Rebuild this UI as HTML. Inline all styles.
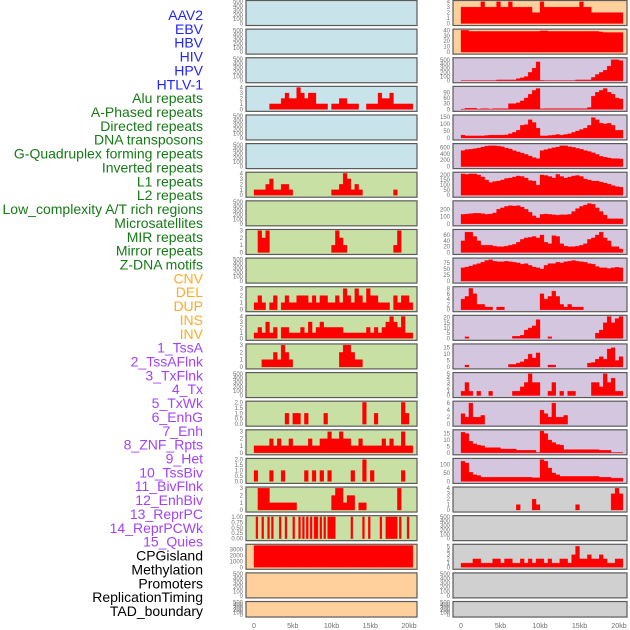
<!DOCTYPE html>
<html><head><meta charset="utf-8"><style>
html,body{margin:0;padding:0;background:#fff;}
svg{display:block;font-family:"Liberation Sans",sans-serif;}
</style></head><body>
<svg id="chart" width="630" height="630" viewBox="0 0 630 630" xmlns="http://www.w3.org/2000/svg"></svg>
<script>
// ---- data ----
const labels = ["AAV2","EBV","HBV","HIV","HPV","HTLV-1","Alu repeats","A-Phased repeats","Directed repeats","DNA transposons","G-Quadruplex forming repeats","Inverted repeats","L1 repeats","L2 repeats","Low_complexity A/T rich regions","Microsatellites","MIR repeats","Mirror repeats","Z-DNA motifs","CNV","DEL","DUP","INS","INV","1_TssA","2_TssAFlnk","3_TxFlnk","4_Tx","5_TxWk","6_EnhG","7_Enh","8_ZNF_Rpts","9_Het","10_TssBiv","11_BivFlnk","12_EnhBiv","13_ReprPC","14_ReprPCWk","15_Quies","CPGisland","Methylation","Promoters","ReplicationTiming","TAD_boundary"];
const labelGroups = ["virus","virus","virus","virus","virus","virus","repeat","repeat","repeat","repeat","repeat","repeat","repeat","repeat","repeat","repeat","repeat","repeat","repeat","sv","sv","sv","sv","sv","hmm","hmm","hmm","hmm","hmm","hmm","hmm","hmm","hmm","hmm","hmm","hmm","hmm","hmm","hmm","other","other","other","other","other"];
const xTickKb = [0,5,10,15,20];
const xTickLabels = ["0","5kb","10kb","15kb","20kb"];

const emptyTicks = [0,100,200,300,400,500];
const t4 = [0,1,2,3,4];
const t3 = [0,1,2,3];
const t2 = [0,0.5,1,1.5,2];
const t2Labels = ["0.0","0.5","1.0","1.5","2.0"];
const t1 = [0,0.25,0.5,0.75,1];
const t1Labels = ["0.00","0.25","0.50","0.75","1.00"];

const L3 = [0,0,0,0,1,1,1,2,3,2,2,4,3,2,3,3,1,1,1,0,1,1,2,2,1,1,1,0,0,1,1,1,3,2,2,3,1,1,1,1,1];
const L6 = [1,1,1,2,3,1,1,2,2,1,0,0,0,0,0,0,0,0,0,0,1,1,2,4,3,1,2,1,0,0,0,0,0,0,0,0,1,0,0,0,0];
const L8 = [0,3,2,3,0,0,0,0,0,0,0,0,0,0,0,0,0,0,0,0,1,3,2,1,0,0,0,0,0,0,0,0,0,0,0,0,1,3,0,0,0];
const L10 = [1,2,1,0,1,2,0,1,2,1,1,2,2,2,1,2,1,2,2,1,1,2,1,3,2,1,3,2,1,3,2,2,1,1,1,0,2,1,2,2,1];
const L11 = [1,2,1,3,1,2,0,2,2,1,1,1,2,1,3,1,2,3,2,2,2,2,2,1,1,1,1,1,1,2,1,2,1,2,3,4,3,2,4,1,1];
const L12 = [0,0,1,1,1,2,1,3,2,1,0,0,0,0,0,0,0,0,0,0,0,0,2,3,3,2,1,1,0,0,0,0,0,0,0,0,0,0,0,0,0];
const L14 = [0,0,0,0,0,0,0,0,1,0,1,1,0,1,0,0,0,0,1,0,0,0,0,0,0,0,0,0,2,0,0,1,0,0,0,0,0,0,2,1,0];
const L15 = [1,1,1,1,2,1,2,1,1,2,1,1,1,1,2,1,1,2,2,3,2,2,3,2,2,1,1,2,1,1,1,1,1,2,1,2,1,1,3,1,1];
const L16 = [1,0,0,0,1,0,0,1,0,0,0,0,0,1,0,1,0,1,0,1,0,0,0,0,0,1,0,0,2,0,1,0,0,0,0,0,0,0,1,0,0];
const L17 = [0,3,3,3,1,1,1,1,1,1,1,0,0,0,0,0,0,0,0,0,2,3,3,1,2,2,0,1,1,0,0,0,0,0,0,0,0,3,0,0,0];
const L18 = [0,1,0,0,1,0,0,1,0,1, 0,0,0,1,0,0,1,0,0,0, 1,0,0,1,0,1,0,1,0,1, 0,1,1,0,1,0,1,0,1,1, 1,1,0,0,0,0,0,0,0,0, 1,0,0,0,0,0,1,0,0,1, 0,0,0,0,0,1,0,0,1,1, 1,1,1,1,0,1,0,0,0,1, 0,0];
const L19 = [3700,3700,3700,3700,3700,3700,3700,3700,3700,3700,3700,3700,3700,3700,3700,3700,3700,3700,3700,3700,3700,3700,3700,3700,3700,3700,3700,3700,3700,3700,3700,3700,3700,3700,3700,3700,3700,3700,3700,3700,3700];

const R0 = [3,3,3,3,3,4,3,3,3,4,3,3,4,3,3,3,3,3,2,2,4,3,3,3,3,3,3,3,3,3,4,3,3,2,2,2,2,2,2,2,2];
const R1 = [40,40,38,38,38,38,38,38,38,38,38,38,38,38,38,38,38,38,38,38,39,39,38,38,38,38,38,38,38,38,38,38,38,38,38,37,36,36,36,36,36];
const R2 = [5,5,5,5,5,5,5,5,5,20,20,20,20,20,50,70,100,200,300,450,10,5,5,5,5,5,5,5,5,20,20,20,20,80,150,200,250,350,500,500,480];
const R3 = [2,6,6,6,2,4,4,2,4,4,4,4,30,30,35,45,60,80,100,110,3,4,4,4,4,4,4,4,4,4,4,4,10,70,90,100,110,90,80,60,55];
const R4 = [20,15,15,15,15,15,18,20,20,20,20,22,30,40,55,90,95,130,110,70,15,15,18,20,25,20,25,30,40,50,60,70,90,145,130,105,100,105,90,55,55];
const R5 = [500,530,540,560,580,610,640,650,650,640,620,580,550,500,460,420,380,330,280,250,500,530,560,590,610,650,650,620,600,570,540,500,470,430,380,320,290,270,250,250,240];
const R6 = [210,205,210,210,200,180,150,125,135,140,150,165,170,180,190,185,170,145,140,100,200,195,185,170,205,185,170,180,190,195,185,160,150,140,140,130,120,110,95,85,80];
const R7 = [130,135,140,145,145,140,130,135,150,200,220,240,250,245,250,230,200,160,110,80,130,135,130,125,120,125,125,130,170,210,240,260,280,270,220,170,120,70,70,70,70];
const R8 = [40,70,70,55,40,25,25,25,22,20,20,22,25,28,35,45,50,52,55,50,60,35,30,58,55,30,22,20,20,22,25,30,45,50,60,70,50,40,20,20,12];
const R9 = [55,58,62,68,72,78,85,88,82,80,80,82,80,78,75,70,72,65,58,55,50,65,72,72,78,75,80,82,85,82,80,78,72,70,60,55,55,52,55,57,55];
const R10 = [4,5,8,6,2,2,1,1,0,1,1,0,0,0,0,0,0,0,0,0,6,4,5,7,5,2,1,2,1,1,1,0,0,0,0,0,0,0,0,0,0];
const R11 = [0,1.5,0,0,0,0,0,0,0,0,0,0,0,2,2,3,8,10,12,18,0,0,1.5,0,0,0,0,0,0,0,0,0,0,0,5,8,15,21,15,19,21];
const R12 = [0,1.5,0,0,0,0,0,0,0,0,0,0,2,2,3,4,6,10,7,11,0,0,1.5,1.5,0,0,0,0,0,0,0,0,3,3.5,6,8,6,14,15,5,8];
const R13 = [1,3,1,0,1,0,0,1,0,0,0,0,0,1,1,2,3,5,3,3,0,0,1,3,0,1,0,1,1,0,0,0,0,3,3,2,5,3,4,1,1];
const R14 = [3,2,6,2,2,2.5,0,0,0,0,0,0,0,0,0,0,0,0,0,0,4,3,2,6,2,2,2.5,0,0,0,0,0,0,0,0,0,0,0,0,0,0];
const R15 = [16,15,9,7,6,5.5,4,4,4,4,3,3,3,3,2,2,2,2,2,0.3,17,15,10,8,6.5,6,2.5,2.5,2.5,2.5,2.5,2.5,2.5,2.5,2.5,2,2,2,0.3,0.3,0.3];
const R16 = [120,110,55,40,35,25,25,25,25,25,25,25,25,25,25,25,25,25,22,22,130,120,80,50,40,30,30,30,30,30,30,30,30,30,30,25,25,25,20,20,20];
const R17 = [0,0,0,0,0,0,0,0,0,0,0,0,0,0,1,0,0,0,2,1,0,0,0,0,0,0,0,0,0,1,0,0,0,0,0,0,0,0,3,4,3];
const R19 = [1,1,1,2,2,1,1,1,2,2,1,2,2,1,1,2,1,2,1,2,2,1,2,1,1,2,2,1,3,5,2,2,3,2,2,3,2,1,1,2,2];

// ---- panel config (column, row, bg, ticks, tick labels, domain, series, binKb) ----
const BLUE="#c9e3ea", GREEN="#c8e0a4", PEACH="#ffd09c", PURPLE="#d5c6e0", GREY="#d0d0d0";
const panels = [
 ["left",0,BLUE,emptyTicks,null,500,[],0.5],
 ["left",1,BLUE,emptyTicks,null,500,[],0.5],
 ["left",2,BLUE,emptyTicks,null,500,[],0.5],
 ["left",3,BLUE,t4,null,4,L3,0.5],
 ["left",4,BLUE,emptyTicks,null,500,[],0.5],
 ["left",5,BLUE,emptyTicks,null,500,[],0.5],
 ["left",6,GREEN,t4,null,4,L6,0.5],
 ["left",7,GREEN,emptyTicks,null,500,[],0.5],
 ["left",8,GREEN,t3,null,3,L8,0.5],
 ["left",9,GREEN,emptyTicks,null,500,[],0.5],
 ["left",10,GREEN,t3,null,3.1,L10,0.5],
 ["left",11,GREEN,t4,null,4,L11,0.5],
 ["left",12,GREEN,t3,null,3,L12,0.5],
 ["left",13,GREEN,emptyTicks,null,500,[],0.5],
 ["left",14,GREEN,t2,t2Labels,2,L14,0.5],
 ["left",15,GREEN,t3,null,3.1,L15,0.5],
 ["left",16,GREEN,t2,t2Labels,2,L16,0.5],
 ["left",17,GREEN,t3,null,3,L17,0.5],
 ["left",18,GREEN,t1,t1Labels,1,L18,0.25],
 ["left",19,PEACH,[0,1000,2000,3000],null,3700,L19,0.5],
 ["left",20,PEACH,emptyTicks,null,500,[],0.5],
 ["left",21,PEACH,emptyTicks,null,500,[],0.5],
 ["right",0,PEACH,t4,null,4,R0,0.5],
 ["right",1,PEACH,[0,10,20,30,40],null,40,R1,0.5],
 ["right",2,PURPLE,emptyTicks,null,520,R2,0.5],
 ["right",3,PURPLE,[0,30,60,90],null,115,R3,0.5],
 ["right",4,PURPLE,[0,50,100,150],null,155,R4,0.5],
 ["right",5,PURPLE,[0,200,400,600],null,680,R5,0.5],
 ["right",6,PURPLE,[0,50,100,150,200],null,215,R6,0.5],
 ["right",7,PURPLE,[0,100,200],null,300,R7,0.5],
 ["right",8,PURPLE,[0,20,40,60],null,75,R8,0.5],
 ["right",9,PURPLE,[0,25,50,75],null,90,R9,0.5],
 ["right",10,PURPLE,[0,2,4,6,8],null,8.2,R10,0.5],
 ["right",11,PURPLE,[0,5,10,15,20],null,21,R11,0.5],
 ["right",12,PURPLE,[0,5,10,15],null,17,R12,0.5],
 ["right",13,PURPLE,[0,1,2,3,4,5],null,5,R13,0.5],
 ["right",14,PURPLE,[0,2,4,6],null,6.2,R14,0.5],
 ["right",15,PURPLE,[0,5,10,15],null,17,R15,0.5],
 ["right",16,PURPLE,[0,50,100],null,130,R16,0.5],
 ["right",17,GREY,t4,null,4,R17,0.5],
 ["right",18,GREY,emptyTicks,null,500,[],0.5],
 ["right",19,GREY,[0,1,2,3,4,5],null,5.2,R19,0.5],
 ["right",20,GREY,emptyTicks,null,500,[],0.5],
 ["right",21,GREY,emptyTicks,null,500,[],0.5]
];

// ---- layout ----
const NS="http://www.w3.org/2000/svg";
const svg=document.getElementById("chart");
const cols={left:{x:246,w:171,x0:254,pxPerKb:7.75},right:{x:453,w:174,x0:461,pxPerKb:7.9}};
const rowPitch=28.62;
function rowTop(r){return r*rowPitch+0.5;}
function rowH(r){return r===21?15.5:25;}
function xScale(col,kb){return cols[col].x0+kb*cols[col].pxPerKb;}
function yScale(r,v,dom){const t=rowTop(r),h=rowH(r);const y0=t+h-2,y1=t+1.2;return y0-(Math.min(v,dom)/dom)*(y0-y1);}
function mk(tag,attrs){const e=document.createElementNS(NS,tag);for(const k in attrs)e.setAttribute(k,attrs[k]);return e;}
const groupColor={virus:"#2323ff",repeat:"#167a16",sv:"#ffab24",hmm:"#a242ff",other:"#000000"};

// labels
labels.forEach((lab,i)=>{
  const t=mk("text",{x:203,y:(15+i*13.86+5).toFixed(2),"text-anchor":"end","font-size":"14",fill:groupColor[labelGroups[i]]});
  
  
  t.textContent=lab;
  svg.appendChild(t);
});

// panels
panels.forEach((p)=>{
  const [col,r,bg,ticks,tickLabels,dom,vals,binKb]=p;
  const c=cols[col];const top=rowTop(r),h=rowH(r);
  const g=mk("g",{});
  
  
  const rect=mk("rect",{x:c.x,y:top,width:c.w,height:h,fill:bg,stroke:"none"});
  
  
  g.appendChild(rect);
  if(vals.length){
    let d="";const yb=yScale(r,0,dom);
    vals.forEach((v,k)=>{
      if(v<=0)return;
      const xa=xScale(col,k*binKb),xb=xScale(col,(k+1)*binKb),yv=yScale(r,v,dom);
      d+=`M${xa.toFixed(2)},${yb.toFixed(2)}V${yv.toFixed(2)}H${xb.toFixed(2)}V${yb.toFixed(2)}Z`;
    });
    const path=mk("path",{d:d,fill:"#ff0000",stroke:"#ff0000","stroke-width":"0.3"});
    
    
    g.appendChild(path);
  }
  const border=mk("rect",{x:c.x,y:top,width:c.w,height:h,fill:"none",stroke:"#5a5a5a","stroke-width":"1.2"});
  
  
  g.appendChild(border);
  ticks.forEach((tv,k)=>{
    const tt=mk("text",{x:c.x-3,y:(yScale(r,tv,dom)+2).toFixed(2),"text-anchor":"end","font-size":"6",fill:"#707070"});
    
    
    tt.textContent=tickLabels?tickLabels[k]:String(tv);
    g.appendChild(tt);
  });
  svg.appendChild(g);
});

// x axes
["left","right"].forEach(col=>{
  xTickKb.forEach((kb,k)=>{
    const t=mk("text",{x:xScale(col,kb).toFixed(2),y:628,"text-anchor":"middle","font-size":"7",fill:"#707070"});
    
    
    t.textContent=xTickLabels[k];
    svg.appendChild(t);
  });
});
</script>
</body></html>
